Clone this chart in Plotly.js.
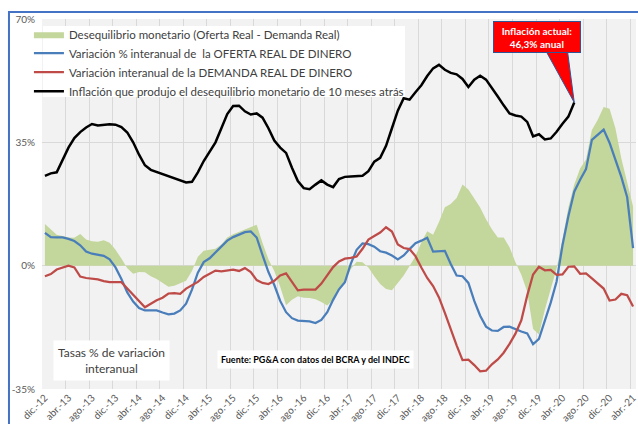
<!DOCTYPE html>
<html>
<head>
<meta charset="utf-8">
<script src="https://cdn.plot.ly/plotly-3.0.1.min.js"></script>
<style>html,body{margin:0;padding:0;background:#fff;}#chart{width:638px;height:424px;}</style>
</head>
<body>
<div id="chart"></div>
<script>
// Month index 0 = dic.-12 ... 100 = abr.-21
const tickLabels = ["dic.-12","abr.-13","ago.-13","dic.-13","abr.-14","ago.-14","dic.-14","abr.-15","ago.-15","dic.-15","abr.-16","ago.-16","dic.-16","abr.-17","ago.-17","dic.-17","abr.-18","ago.-18","dic.-18","abr.-19","ago.-19","dic.-19","abr.-20","ago.-20","dic.-20","abr.-21"];

// Desequilibrio monetario (Oferta Real - Demanda Real)
const desequilibrio = [11.8,10.2,8.8,8.4,8.0,7.9,9.0,7.4,6.9,6.8,7.2,6.5,4.5,2.0,-0.7,-2.3,-1.8,-1.9,-3.0,-3.8,-4.9,-6.0,-5.7,-5.0,-4.3,-1.5,2.5,4.2,4.4,4.8,6.0,8.0,8.9,9.6,10.2,10.9,11.6,6.4,1.8,-1.5,-6.0,-11.2,-9.7,-8.7,-9.1,-9.2,-9.5,-10.3,-11.3,-9.7,-7.0,-4.2,-1.0,1.1,1.0,-0.5,-3.0,-5.2,-6.6,-7.0,-4.9,-2.8,-0.1,2.7,6.6,9.8,8.8,12.4,16.6,17.5,19.2,23.0,21.6,19.0,16.5,13.2,10.3,8.0,8.0,5.2,1.0,-2.6,-7.3,-18.0,-19.5,-12.5,-6.7,-0.8,7.5,16.5,23.0,27.6,30.1,38.5,41.4,45.0,44.5,39.0,30.5,23.5,16.8];

// Variación % interanual de la OFERTA REAL DE DINERO
const oferta = [9.3,8.1,8.0,8.0,7.6,7.0,5.8,4.0,3.4,3.0,2.8,1.8,-0.5,-3.8,-7.6,-10.2,-12.0,-12.7,-12.8,-12.7,-13.3,-13.8,-13.6,-12.7,-10.8,-6.8,-2.0,1.0,2.1,3.7,5.4,7.1,8.1,8.9,9.5,9.7,8.0,3.0,-1.8,-5.5,-10.0,-13.2,-14.9,-15.6,-15.8,-15.8,-16.3,-15.4,-13.2,-9.7,-6.7,-4.7,0.5,4.5,6.3,6.1,5.4,4.1,3.7,2.9,1.8,2.9,4.7,6.4,7.1,7.9,4.0,4.1,4.2,0.5,-2.8,-3.0,-4.9,-10.0,-14.2,-17.3,-18.4,-18.5,-17.4,-17.3,-18.1,-18.7,-19.2,-22.3,-20.8,-15.8,-10.5,-4.5,5.8,14.0,21.0,24.4,27.4,35.7,37.1,38.6,34.9,30.1,25.2,19.4,5.0];

// Variación interanual de la DEMANDA REAL DE DINERO
const demanda = [-3.0,-2.4,-1.1,-0.5,0.0,-0.5,-3.1,-3.5,-3.7,-3.9,-4.4,-4.7,-4.7,-4.7,-6.5,-8.2,-9.9,-11.8,-10.8,-9.8,-9.1,-7.9,-7.8,-8.0,-6.5,-5.5,-4.6,-3.2,-2.4,-1.4,-1.6,-1.4,-1.1,-1.5,-0.7,-1.8,-4.1,-4.9,-5.2,-4.3,-2.8,-2.2,-4.6,-7.0,-6.8,-6.8,-6.8,-5.1,-2.8,-0.4,1.2,2.0,2.2,2.6,4.8,7.4,8.4,9.4,10.9,9.7,6.0,5.0,4.7,2.7,-0.5,-3.5,-5.8,-9.0,-13.4,-18.3,-22.6,-26.8,-26.7,-28.2,-30.0,-29.8,-28.0,-26.6,-24.7,-22.2,-19.3,-15.5,-8.5,-2.5,-0.3,-1.3,-1.2,-2.6,-2.5,-0.3,-0.2,-2.3,-2.2,-3.6,-5.1,-6.5,-9.9,-9.6,-8.0,-8.4,-11.6];

// Inflación que produjo el desequilibrio monetario de 10 meses atrás
const inflacion = [25.5,26.2,26.5,29.8,33.5,36.2,37.9,39.2,40.2,39.8,40.0,40.1,40.0,39.3,37.8,35.0,31.5,28.5,27.2,26.6,25.8,25.2,24.6,24.1,23.6,23.8,26.5,29.7,32.5,35.0,39.0,43.0,45.3,45.4,43.8,42.9,43.2,42.0,39.0,35.5,33.5,32.0,27.8,24.0,22.0,21.7,23.0,24.2,23.0,22.3,24.6,25.2,25.3,25.5,25.5,26.8,29.5,30.6,34.0,39.0,44.0,47.5,47.1,49.2,51.2,53.8,56.0,57.0,55.6,54.7,54.3,53.0,50.7,52.8,53.9,52.8,50.5,48.0,45.5,43.2,42.6,42.3,40.8,36.7,37.3,35.8,36.1,38.0,40.3,42.3,46.3];

const yTicks = [-35, 0, 35, 70];

const idx = n => Array.from({length: n}, (_, i) => i);
const FONT = "Lato, 'Open Sans', sans-serif";

const traces = [
  {x: idx(desequilibrio.length), y: desequilibrio, type: 'scatter', mode: 'lines', fill: 'tozeroy',
   fillcolor: '#c3d69b', line: {width: 0, color: '#c3d69b'},
   name: 'Desequilibrio monetario (Oferta Real - Demanda Real)'},
  {x: idx(oferta.length), y: oferta, type: 'scatter', mode: 'lines',
   line: {color: '#4a7ebb', width: 2.25},
   name: 'Variación % interanual de  la OFERTA REAL DE DINERO'},
  {x: idx(demanda.length), y: demanda, type: 'scatter', mode: 'lines',
   line: {color: '#be4b48', width: 2.25},
   name: 'Variación interanual de la DEMANDA REAL DE DINERO'},
  {x: idx(inflacion.length), y: inflacion, type: 'scatter', mode: 'lines',
   line: {color: '#000000', width: 2.5},
   name: 'Inflación que produjo el desequilibrio monetario de 10 meses atrás'}
];

const tipX = inflacion.length - 1, tipY = inflacion[inflacion.length - 1];

const layout = {
  width: 638, height: 424,
  margin: {l: 42, r: 2, t: 19, b: 35},
  paper_bgcolor: '#ffffff',
  plot_bgcolor: '#f2f2f2',
  font: {family: FONT, color: '#595959'},
  showlegend: true,
  legend: {x: -0.022, y: 0.998, xanchor: 'left', yanchor: 'top', bgcolor: 'rgba(0,0,0,0)',
           font: {size: 11.5, color: '#404040', family: FONT}, traceorder: 'normal'},
  xaxis: {
    range: [-0.5, 100.5], tickmode: 'array',
    tickvals: tickLabels.map((_, k) => 4 * k), ticktext: tickLabels,
    tickangle: -45, tickfont: {size: 10, color: '#595959'},
    ticklabeloverflow: 'allow',
    showgrid: false, zeroline: false, showline: false, ticks: '',
    automargin: false,
    minor: {tickmode: 'linear', tick0: -0.5, dtick: 4, showgrid: true, gridcolor: '#d9d9d9', gridwidth: 1, ticks: ''}
  },
  yaxis: {
    range: [-35, 70], tickmode: 'array', tickvals: yTicks,
    ticktext: yTicks.map(v => v + '%'),
    tickfont: {size: 10, color: '#595959'},
    showgrid: true, gridcolor: '#d9d9d9', zeroline: false, showline: false, ticks: '',
    ticklabelstandoff: 6, automargin: false
  },
  shapes: [
    // chart frame
    {type: 'path', xref: 'paper', yref: 'paper', layer: 'above',
     path: 'M -0.0556,-0.3 L -0.0556,1.019 L 1.02,1.019', line: {color: '#4472c4', width: 2}},
    // legend white box
    {type: 'rect', xref: 'paper', yref: 'paper', layer: 'above',
     x0: 0.0017, x1: 0.611, y0: 0.789, y1: 0.981, fillcolor: '#ffffff', line: {width: 0}},
    // callout wedge
    {type: 'path', xref: 'x', yref: 'y', layer: 'above',
     path: `M 85,61.5 L ${tipX},${tipY} L 88.8,61.5 Z`, fillcolor: '#ff0000',
     line: {color: '#2f5597', width: 1}}
  ],
  annotations: [
    {x: 83.6, y: 64.9, xref: 'x', yref: 'y', xanchor: 'center', yanchor: 'middle', showarrow: false,
     text: '<b>Inflación actual:<br>46,3% anual</b>', font: {size: 10, color: '#ffffff', family: FONT},
     bgcolor: '#ff0000', bordercolor: '#2f5597', borderwidth: 1, width: 84, height: 28},
    {x: 0.117, y: 0.0757, xref: 'paper', yref: 'paper', xanchor: 'center', yanchor: 'middle', showarrow: false,
     text: 'Tasas % de variación<br>interanual', font: {size: 12, color: '#404040', family: FONT},
     bgcolor: '#ffffff', borderpad: 4},
    {x: 0.461, y: 0.0784, xref: 'paper', yref: 'paper', xanchor: 'center', yanchor: 'middle', showarrow: false,
     text: '<b>Fuente: PG&A con datos del BCRA y del INDEC</b>', font: {size: 9, color: '#000000', family: FONT},
     bgcolor: '#ffffff', borderpad: 3}
  ]
};

Plotly.newPlot('chart', traces, layout, {displayModeBar: false, staticPlot: true});
</script>
</body>
</html>
